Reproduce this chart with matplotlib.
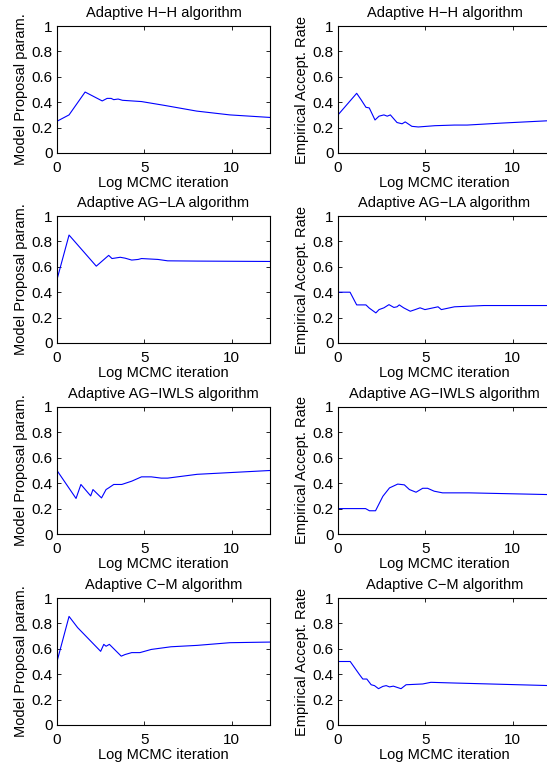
import matplotlib
matplotlib.use("Agg")
from matplotlib import pyplot as plt

plt.rcParams['font.family'] = ['Liberation Sans', 'DejaVu Sans']
plt.rcParams['font.size'] = 10.5

# titles and labels
titles = ['Adaptive H\u2212H algorithm', 'Adaptive AG\u2212LA algorithm',
          'Adaptive AG\u2212IWLS algorithm', 'Adaptive C\u2212M algorithm']
ylab_left = 'Model Proposal param.'
ylab_right = 'Empirical Accept. Rate'
xlab = 'Log MCMC iteration'

# H-H
hh_prop_x = [0, 0.69, 1.61, 2.59, 2.87, 3.1, 3.25, 3.5, 3.75, 4.84, 6.15, 8.0, 9.9, 12.2]
hh_prop_y = [0.25, 0.30, 0.48, 0.41, 0.43, 0.43, 0.42, 0.425, 0.415, 0.405, 0.375, 0.33, 0.30, 0.28]
hh_acc_x = [0, 1.07, 1.32, 1.6, 1.79, 2.12, 2.35, 2.63, 2.82, 3.0, 3.38, 3.67, 3.85, 4.23,
            4.6, 5.55, 6.67, 7.4, 9.3, 12.2]
hh_acc_y = [0.30, 0.47, 0.42, 0.36, 0.355, 0.26, 0.29, 0.30, 0.29, 0.30, 0.24, 0.23, 0.245, 0.21,
            0.205, 0.215, 0.22, 0.22, 0.235, 0.255]

# AG-LA
la_prop_x = [0, 0.69, 2.25, 2.96, 3.15, 3.62, 3.9, 4.28, 4.65, 4.84, 5.78, 6.34, 8.03, 12.2]
la_prop_y = [0.50, 0.85, 0.605, 0.69, 0.665, 0.675, 0.668, 0.653, 0.658, 0.665, 0.658, 0.647, 0.645, 0.642]
la_acc_x = [0, 0.69, 1.07, 1.6, 1.79, 2.17, 2.35, 2.63, 2.92, 3.2, 3.38, 3.51, 3.76, 4.14,
            4.42, 4.7, 4.98, 5.73, 5.92, 6.67, 8.36, 12.2]
la_acc_y = [0.40, 0.40, 0.30, 0.30, 0.275, 0.237, 0.263, 0.277, 0.302, 0.28, 0.285, 0.30, 0.277, 0.25,
            0.263, 0.277, 0.263, 0.285, 0.263, 0.285, 0.295, 0.295]

# AG-IWLS
iw_prop_x = [0, 1.09, 1.37, 1.93, 2.06, 2.55, 2.81, 2.96, 3.25, 3.71, 4.28, 4.84, 5.4, 5.97,
             6.34, 8.03, 12.2]
iw_prop_y = [0.50, 0.28, 0.39, 0.30, 0.35, 0.284, 0.35, 0.363, 0.39, 0.39, 0.416, 0.45, 0.45, 0.44,
             0.44, 0.47, 0.50]
iw_acc_x = [0, 1.58, 1.8, 2.15, 2.57, 2.95, 3.42, 3.8, 4.09, 4.47, 4.85, 5.13, 5.51, 5.99, 7.5, 12.2]
iw_acc_y = [0.20, 0.20, 0.183, 0.183, 0.297, 0.363, 0.393, 0.387, 0.35, 0.329, 0.36, 0.36, 0.337,
            0.324, 0.324, 0.31]

# C-M
cm_prop_x = [0, 0.69, 1.18, 2.5, 2.68, 2.81, 3.0, 3.68, 3.9, 4.28, 4.75, 5.4, 6.53, 8.03, 9.9, 12.2]
cm_prop_y = [0.50, 0.855, 0.767, 0.58, 0.635, 0.62, 0.635, 0.542, 0.555, 0.57, 0.57, 0.595, 0.616,
             0.627, 0.648, 0.653]
cm_acc_x = [0, 0.7, 1.23, 1.42, 1.65, 1.9, 2.09, 2.32, 2.57, 2.76, 2.95, 3.17, 3.61, 3.9, 4.85,
            5.32, 6.55, 12.2]
cm_acc_y = [0.50, 0.50, 0.397, 0.362, 0.362, 0.317, 0.31, 0.286, 0.304, 0.31, 0.30, 0.306, 0.286,
            0.317, 0.323, 0.336, 0.331, 0.31]

left_data = [(hh_prop_x, hh_prop_y), (la_prop_x, la_prop_y), (iw_prop_x, iw_prop_y), (cm_prop_x, cm_prop_y)]
right_data = [(hh_acc_x, hh_acc_y), (la_acc_x, la_acc_y), (iw_acc_x, iw_acc_y), (cm_acc_x, cm_acc_y)]

W, H = 547, 772
fig = plt.figure(figsize=(W / 100, H / 100), dpi=100)

row_bottoms = [153, 343, 534, 725]  # pixel bottom of each row
ax_h = 127
ax_w = 213
col_lefts = [57, 338]


def style(ax, ylabel, title):
    ax.set_xlim(0, 12.2)
    ax.set_ylim(0, 1)
    ax.set_xticks([0, 5, 10])
    ax.set_yticks([0, 0.2, 0.4, 0.6, 0.8, 1])
    ax.set_yticklabels(['0', '0.2', '0.4', '0.6', '0.8', '1'])
    ax.tick_params(direction='in', top=True, right=True, length=3, width=0.6,
                   labelsize=11)
    ax.tick_params(axis='x', pad=5.5)
    ax.tick_params(axis='y', pad=3)
    for s in ax.spines.values():
        s.set_linewidth(0.8)
    ax.set_xlabel(xlab, labelpad=1)
    ax.set_ylabel(ylabel, labelpad=3)
    ax.set_title(title, pad=6.5, fontsize=10.5)


for r in range(4):
    bottom = 1 - row_bottoms[r] / H
    for c in range(2):
        ax = fig.add_axes([col_lefts[c] / W, bottom, ax_w / W, ax_h / H])
        if c == 0:
            x, y = left_data[r]
            style(ax, ylab_left, titles[r])
        else:
            x, y = right_data[r]
            style(ax, ylab_right, titles[r])
        ax.plot(x, y, color='#0000ff', linewidth=0.8)

fig.savefig('out.png', dpi=100)
